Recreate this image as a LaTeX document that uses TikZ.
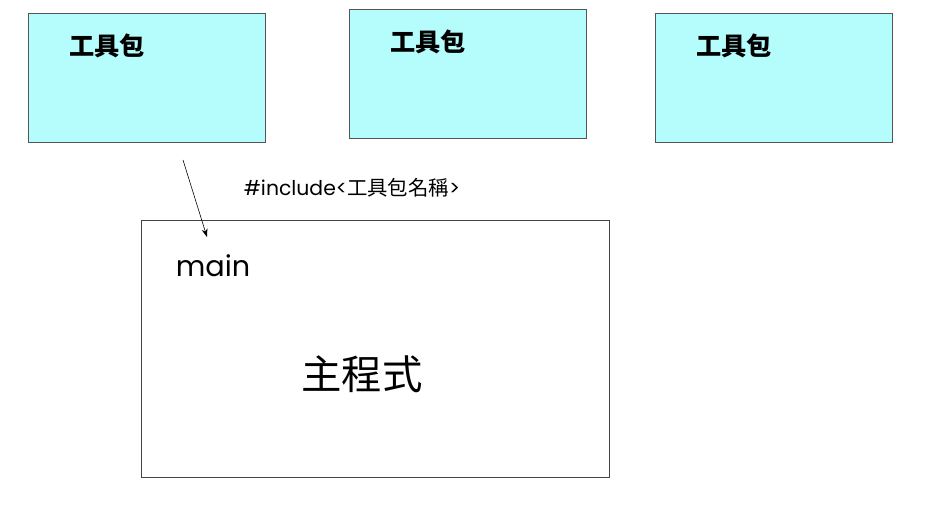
\documentclass[tikz,border=0pt]{standalone}
\usepackage{fontspec}
\setmainfont{Poppins}
\newfontfamily\cjk{Noto Sans CJK TC}
\usepackage{xcolor}
\usepackage{tikz}
\usetikzlibrary{positioning,%
  arrows.meta,%
  calc}
\definecolor{pkgfill}{HTML}{B5FCFC}
\definecolor{pkgline}{HTML}{555555}
\definecolor{mainline}{HTML}{444444}

\begin{document}
\begin{tikzpicture}
                    [x=0.03cm, y=-0.03cm,
                    pkg/.style={rectangle, inner sep=0pt,
                        minimum width=237*0.03cm, minimum height=129*0.03cm,
                        fill=pkgfill, draw=pkgline, line width=0.7pt},
                    prog/.style={rectangle, inner sep=0pt,
                        minimum width=468*0.03cm, minimum height=257*0.03cm,
                        draw=mainline, line width=0.6pt},
                    pkgname/.style={font=\cjk\bfseries\fontsize{21.5}{24}\selectfont},
                    label/.style={inner sep=0pt}]

                    \useasboundingbox (0,0) rectangle (933,531);

                    % three tool packages
                    \node[pkg] (pkga) at (146.5,77.5) {};
                    \node[pkg] (pkgb) at (468,73.5) {};
                    \node[pkg] (pkgc) at (774,77.5) {};
                    \node[pkgname] (namea) at (107,46) {工具包};
                    \node[pkgname] (nameb) at (428,42) {工具包};
                    \node[pkgname] (namec) at (734,46) {工具包};

                    % main program
                    \node[prog] (prog) at (375,348.5) {};
                    \node[label, font=\fontsize{24.5}{28}\selectfont]
                        (main) at (213,266) {main};
                    \node[label, font=\cjk\fontsize{34.5}{40}\selectfont]
                        (body) at (362,374) {主程式};

                    \node[label, font=\fontsize{17.4}{20}\selectfont]
                        (incl) at (352,188)
                        {\#include<{\cjk 工具包名稱}>};

                    \coordinate (from) at (183,160);
                    \coordinate (to) at (207,237);
                    \draw[-{Stealth[length=7pt,width=5pt]}, line width=0.5pt]
                        (from) -- (to);
                \end{tikzpicture}
\end{document}
